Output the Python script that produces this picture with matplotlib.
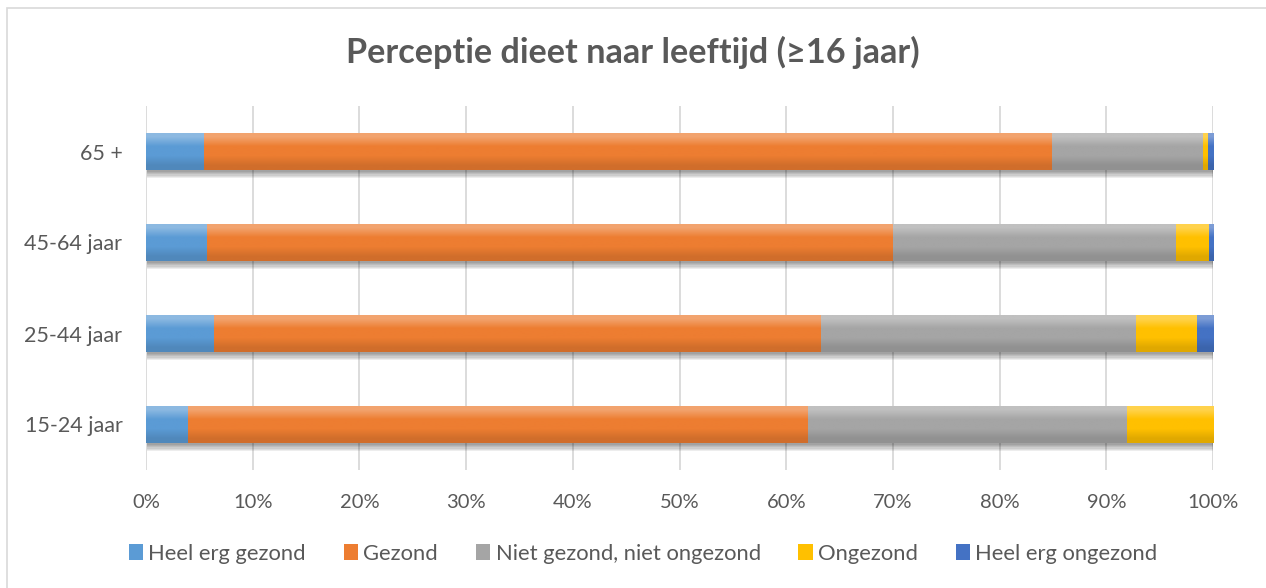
import numpy as np
import matplotlib
matplotlib.use('Agg')
from matplotlib import pyplot as plt
import matplotlib.patheffects as pe
from matplotlib.patches import Rectangle, Patch
from matplotlib.colors import to_rgb

plt.rcParams['font.family'] = ['Lato', 'DejaVu Sans']

# leeftijdsgroepen (van onder naar boven)
groepen = ['15-24 jaar', '25-44 jaar', '45-64 jaar', '65 +']
categorieen = ['Heel erg gezond', 'Gezond', 'Niet gezond, niet ongezond', 'Ongezond', 'Heel erg ongezond']

# aandelen in %, per groep
heel_erg_gezond = [3.9, 6.4, 5.7, 5.4]
gezond = [58.1, 56.9, 64.3, 79.5]
niet_gezond_niet_ongezond = [29.9, 29.45, 26.5, 14.15]
ongezond = [8.1, 5.75, 3.1, 0.45]
heel_erg_ongezond = [0.0, 1.5, 0.4, 0.5]

kleuren = ['#5B9BD5', '#ED7D31', '#A5A5A5', '#FFC000', '#4472C4']
tekstkleur = '#595959'

reeksen = [heel_erg_gezond, gezond, niet_gezond_niet_ongezond, ongezond, heel_erg_ongezond]
data = np.array(reeksen, dtype=float)
data = data / data.sum(axis=0)  # naar 100% gestapeld


def verloop(kleur):
    # licht boven, donkerder onder (zoals Excel)
    c = np.array(to_rgb(kleur))
    boven = c + (1 - c) * 0.3
    onder = c * 0.88
    return np.array([boven, c, c, onder]).reshape(4, 1, 3)


fig = plt.figure(figsize=(12.66, 5.88), dpi=100)
ax = fig.add_axes([146/1266, 1-470/588, (1213-146)/1266, 364/588])

y = np.arange(len(groepen))
links = np.zeros(len(groepen))
for i, naam in enumerate(categorieen):
    bars = ax.barh(y, data[i], left=links, height=0.41, color=kleuren[i], zorder=3)
    for b in bars:
        if b.get_width() <= 0:
            continue
        im = ax.imshow(verloop(kleuren[i]), extent=(b.get_x(), b.get_x() + b.get_width(),
                       b.get_y(), b.get_y() + b.get_height()), origin='upper',
                       interpolation='bilinear', aspect='auto', zorder=3.5)
        im.set_clip_path(b)
    links = links + data[i]

# zachte schaduw onder de hele balk
schaduw = [pe.SimplePatchShadow(offset=(1, -k), shadow_rgbFace='k', alpha=0.07) for k in range(1, 7)]
ax.barh(y, links, height=0.41, color='w', zorder=2, path_effects=schaduw)

ax.set_xlim(0, 1)
ax.set_ylim(-0.5, 3.5)
ax.set_xticks(np.arange(0, 1.01, 0.1))
ax.set_xticklabels(['{:.0f}%'.format(v*100) for v in np.arange(0, 1.01, 0.1)])
ax.set_yticks(y)
ax.set_yticklabels(groepen)
ax.tick_params(axis='both', length=0, labelcolor=tekstkleur)
ax.tick_params(axis='x', pad=17, labelsize=14.5)
ax.tick_params(axis='y', pad=17, labelsize=15.5)
ax.grid(axis='x', color='#D9D9D9', lw=1.3, zorder=0)
for s in ax.spines.values():
    s.set_visible(False)

fig.text(0.5, 1-52/588, 'Perceptie dieet naar leeftijd (≥16 jaar)', ha='center', va='center',
         fontsize=24.7, fontweight='bold', color=tekstkleur)

handles = [Patch(facecolor=k, edgecolor='none') for k in kleuren]
fig.legend(handles, categorieen, loc='center', bbox_to_anchor=(0.508, 1-554/588), ncol=5,
           frameon=False, fontsize=15.8, labelcolor=tekstkleur, handlelength=0.65,
           handleheight=0.75, handletextpad=0.25, columnspacing=1.72)

# kaderrand van de grafiek
fig.patches.append(Rectangle((7/1266, -0.1), 1.2, 1-8/588+0.1, transform=fig.transFigure,
                             fill=False, ec='#D9D9D9', lw=1.2))

fig.savefig('out.png', dpi=100)
